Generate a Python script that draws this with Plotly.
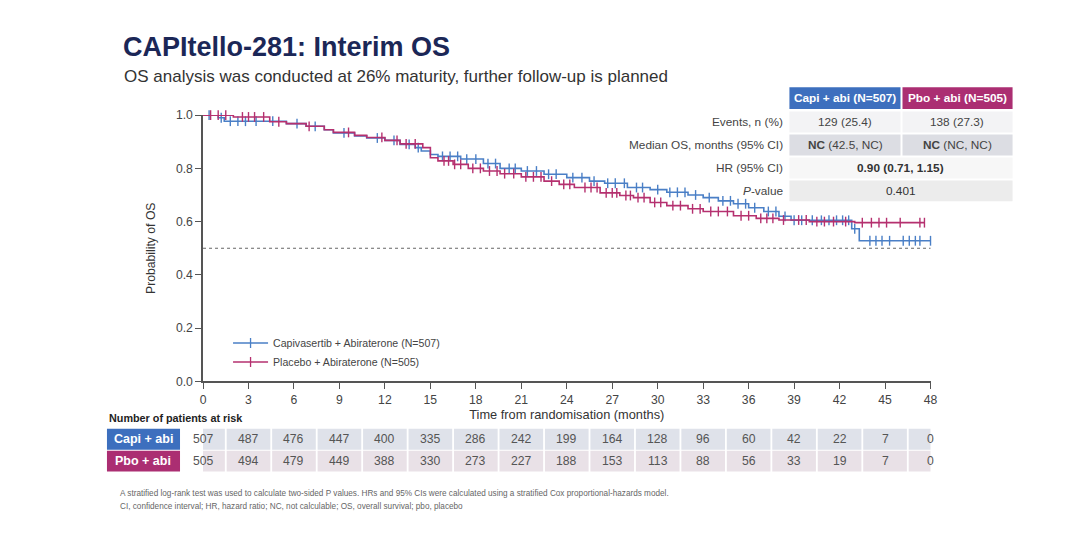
import numpy as np
import plotly.graph_objects as go

W, H = 1070, 555

# ---- data ----
months = [0, 3, 6, 9, 12, 15, 18, 21, 24, 27, 30, 33, 36, 39, 42, 45, 48]
capi_risk = [507, 487, 476, 447, 400, 335, 286, 242, 199, 164, 128, 96, 60, 42, 22, 7, 0]
pbo_risk = [505, 494, 479, 449, 388, 330, 273, 227, 188, 153, 113, 88, 56, 33, 19, 7, 0]

# Kaplan-Meier steps (time in months, survival)
capi_t = [0, 1.0, 1.4, 5.5, 6.8, 8.0, 8.6, 10.0, 10.8, 12.0, 13.0, 14.0, 14.4, 15.0, 15.5,
          17.0, 18.5, 19.6, 21.0, 22.5, 24.0, 25.5, 26.5, 28.0, 29.5, 30.6, 32.0, 33.0,
          34.0, 35.0, 36.0, 37.0, 38.0, 38.8, 42.8, 43.3]
capi_s = [1.0, 0.99, 0.977, 0.968, 0.958, 0.945, 0.933, 0.922, 0.914, 0.905, 0.89, 0.878,
          0.865, 0.852, 0.845, 0.835, 0.818, 0.80, 0.79, 0.778, 0.765, 0.752, 0.744, 0.728,
          0.72, 0.71, 0.70, 0.69, 0.678, 0.667, 0.652, 0.638, 0.62, 0.605, 0.573, 0.528]
capi_end = 48.0
capi_cens = [0.4, 1.2, 1.8, 2.3, 2.8, 3.5, 4.6, 6.2, 7.4, 9.3, 11.5, 12.6, 13.6, 14.2, 15.8,
             16.3, 16.8, 17.4, 18.0, 18.8, 19.3, 20.2, 20.6, 21.4, 22.0, 22.8, 23.3, 24.4,
             25.0, 25.8, 26.7, 27.2, 27.8, 28.6, 29.0, 30.0, 30.8, 31.3, 31.8, 32.5, 33.4,
             34.3, 34.8, 35.3, 35.8, 36.4, 37.3, 37.8, 38.4, 39.0, 39.5, 40.2, 40.8, 41.3,
             41.8, 42.2, 42.6, 43.0, 44.0, 44.4, 44.8, 45.3, 46.2, 46.6, 47.0, 47.3, 48.0]

pbo_t = [0, 2.0, 4.4, 5.5, 6.8, 8.0, 8.6, 10.0, 10.8, 12.0, 13.0, 14.5, 15.0, 15.5, 16.5,
         17.5, 18.5, 19.6, 21.0, 22.5, 23.5, 24.5, 26.2, 27.5, 28.4, 29.5, 30.6, 32.0, 33.0,
         35.0, 36.5, 38.0, 40.0, 43.0]
pbo_s = [1.0, 0.993, 0.975, 0.968, 0.958, 0.945, 0.935, 0.924, 0.916, 0.905, 0.892, 0.878,
         0.84, 0.828, 0.815, 0.80, 0.79, 0.78, 0.768, 0.752, 0.74, 0.728, 0.708, 0.698,
         0.69, 0.672, 0.66, 0.648, 0.638, 0.622, 0.612, 0.606, 0.60, 0.596]
pbo_end = 47.6
pbo_cens = [0.5, 1.0, 1.5, 2.6, 3.0, 3.4, 4.0, 5.0, 7.0, 9.6, 11.8, 12.8, 13.4, 14.0, 15.9,
            16.2, 16.6, 17.0, 17.8, 18.3, 18.9, 19.4, 19.9, 20.5, 21.3, 21.8, 22.3, 23.0,
            23.8, 24.2, 25.2, 25.6, 26.0, 26.6, 27.0, 27.3, 27.9, 28.2, 28.7, 29.1, 29.8,
            30.2, 31.0, 31.5, 32.3, 32.8, 33.5, 34.0, 34.6, 35.5, 36.0, 36.8, 37.2, 37.6,
            38.3, 39.3, 39.8, 40.5, 41.0, 41.6, 42.4, 43.5, 44.1, 44.6, 45.1, 46.0, 47.3, 47.6]

table_rows = ["Events, n (%)", "Median OS, months (95% CI)", "HR (95% CI)", "<i>P</i>-value"]
capi_col = ["129 (25.4)", "<b>NC</b> (42.5, NC)"]
pbo_col = ["138 (27.3)", "<b>NC</b> (NC, NC)"]
hr_text = "<b>0.90 (0.71, 1.15)</b>"
p_text = "0.401"

BLUE = "#4a7fc6"
MAG = "#b5306f"
HBLUE = "#3d6fbe"
HMAG = "#ab2e72"
FONT = "Liberation Sans, Arial, sans-serif"


# positions below are given in slide pixels; the page shot comes out slightly
# shrunk, so map slide pixels back onto the figure
def px(x):
    return (x - 3.1) / 0.99 / W


def py(y):
    return 1 - (y - 5.6) / 0.9775 / H


def surv_at(t, s, c):
    idx = np.searchsorted(t, c, side="right") - 1
    return np.array(s)[idx]


def text(s, x, y, size, color, xanchor="center", xref="paper"):
    return dict(text=s, x=x, y=y, xref=xref, yref="paper", xanchor=xanchor, yanchor="middle",
                showarrow=False, font=dict(size=size, color=color, family=FONT))


def box(x0, x1, y0, y1, color, xref="paper"):
    x0 = px(x0) if xref == "paper" else x0
    x1 = px(x1) if xref == "paper" else x1
    return dict(type="rect", xref=xref, yref="paper", x0=x0, x1=x1, y0=py(y1), y1=py(y0),
                fillcolor=color, line_width=0)


fig = go.Figure()

for t, s, end, cens, col, name in [
    (capi_t, capi_s, capi_end, capi_cens, BLUE, "Capivasertib + Abiraterone (N=507)"),
    (pbo_t, pbo_s, pbo_end, pbo_cens, MAG, "Placebo + Abiraterone (N=505)"),
]:
    fig.add_trace(go.Scatter(x=t + [end], y=s + [s[-1]], mode="lines", line_shape="hv",
                             line=dict(color=col, width=1.6), showlegend=False, hoverinfo="skip"))
    fig.add_trace(go.Scatter(x=cens, y=surv_at(t, s, cens), mode="markers",
                             marker=dict(symbol="line-ns", size=7, line=dict(color=col, width=1.4)),
                             showlegend=False, cliponaxis=False, hoverinfo="skip"))
    # legend entry
    fig.add_trace(go.Scatter(x=[None], y=[None], mode="lines+markers", name=name,
                             line=dict(color=col, width=1.6),
                             marker=dict(symbol="line-ns", size=7, line=dict(color=col, width=1.3))))

fig.add_hline(y=0.5, line=dict(color="#666", width=1.2, dash="dot"))

shapes = []
ann = []

# slide background
bg = box(60, 1026, 18, 525, "#fbfbfb")
bg["layer"] = "below"
shapes.append(bg)

# title
ann.append(text("<b>CAPItello-281: Interim OS</b>", px(121), py(46), 27, "#1b2757", "left"))
ann.append(text("OS analysis was conducted at 26% maturity, further follow-up is planned",
                px(122), py(75), 17, "#333", "left"))

# top-right summary table
cx0, cm, cx1 = 789, 901, 1012
shapes.append(box(cx0, cm - 1, 86, 108, HBLUE))
shapes.append(box(cm + 1, cx1, 86, 108, HMAG))
ann.append(text("<b>Capi + abi (N=507)</b>", px((cx0 + cm) / 2), py(97), 11.8, "white"))
ann.append(text("<b>Pbo + abi (N=505)</b>", px((cm + cx1) / 2), py(97), 11.8, "white"))
row_y = [121, 144, 167, 190]
row_bg = ["#f3f3f5", "#dcdde3", "#f7f7f7", "#ececec"]
for i, (lab, yc) in enumerate(zip(table_rows, row_y)):
    ann.append(text(lab, px(785), py(yc), 11.8, "#444", "right"))
    if i < 2:
        shapes.append(box(cx0, cm - 1, yc - 10.5, yc + 10.5, row_bg[i]))
        shapes.append(box(cm + 1, cx1, yc - 10.5, yc + 10.5, row_bg[i]))
        ann.append(text(capi_col[i], px((cx0 + cm) / 2), py(yc), 11.8, "#444"))
        ann.append(text(pbo_col[i], px((cm + cx1) / 2), py(yc), 11.8, "#444"))
    else:
        shapes.append(box(cx0, cx1, yc - 10.5, yc + 10.5, row_bg[i]))
        ann.append(text(hr_text if i == 2 else p_text, px((cx0 + cx1) / 2), py(yc), 11.8, "#333"))

# number at risk table
ann.append(text("<b>Number of patients at risk</b>", px(107), py(418), 10.8, "#222", "left"))
for risk, lab, hc, cell, yc in [(capi_risk, "Capi + abi", HBLUE, "#dfe2ea", 439),
                                (pbo_risk, "Pbo + abi", HMAG, "#e9e1e7", 461)]:
    shapes.append(box(107, 180, yc - 10.5, yc + 10.5, hc))
    ann.append(text("<b>" + lab + "</b>", px(143.5), py(yc), 12.5, "white"))
    for m, v in zip(months, risk):
        shapes.append(box(m - 1.44, m + 1.44, yc - 10.5, yc + 10.5, cell, xref="x"))
        ann.append(text(str(v), m, py(yc), 12.2, "#555", xref="x"))

# footnotes
ann.append(text("A stratified log-rank test was used to calculate two-sided P values. HRs and 95% CIs "
                "were calculated using a stratified Cox proportional-hazards model.",
                px(118), py(493), 8.2, "#666", "left"))
ann.append(text("CI, confidence interval; HR, hazard ratio; NC, not calculable; OS, overall survival; "
                "pbo, placebo", px(118), py(506), 8.2, "#666", "left"))

fig.update_layout(
    width=W, height=H,
    margin=dict(l=0, r=0, t=0, b=0),
    paper_bgcolor="white", plot_bgcolor="rgba(0,0,0,0)",
    font=dict(family=FONT, color="#444"),
    shapes=shapes, annotations=ann,
    legend=dict(x=px(228), y=py(328), xanchor="left", yanchor="top", bgcolor="rgba(0,0,0,0)",
                font=dict(size=10.6, color="#444"), tracegroupgap=0, itemwidth=35),
    xaxis=dict(domain=[px(203), px(930)], range=[0, 48], tickvals=months, showgrid=False,
               zeroline=False, showline=True, linecolor="#555", linewidth=1.5, ticks="outside",
               ticklen=6, tickcolor="#555", tickfont=dict(size=12.2, color="#444"),
               title=dict(text="Time from randomisation (months)", font=dict(size=12.8, color="#333"),
                          standoff=4)),
    yaxis=dict(domain=[py(381), py(114)], range=[0, 1.0], tickvals=[0, 0.2, 0.4, 0.6, 0.8, 1.0],
               tickformat=".1f", showgrid=False, zeroline=False, showline=True, linecolor="#555",
               linewidth=1.5, ticks="outside", ticklen=6, tickcolor="#555",
               tickfont=dict(size=12.2, color="#444"),
               title=dict(text="Probability of OS", font=dict(size=12.2, color="#333"), standoff=18)),
)

fig.write_html("out.html", config={"displayModeBar": False},
               post_script="document.body.style.margin='0';document.body.style.overflow='hidden';"
                           "document.documentElement.style.overflow='hidden';")
